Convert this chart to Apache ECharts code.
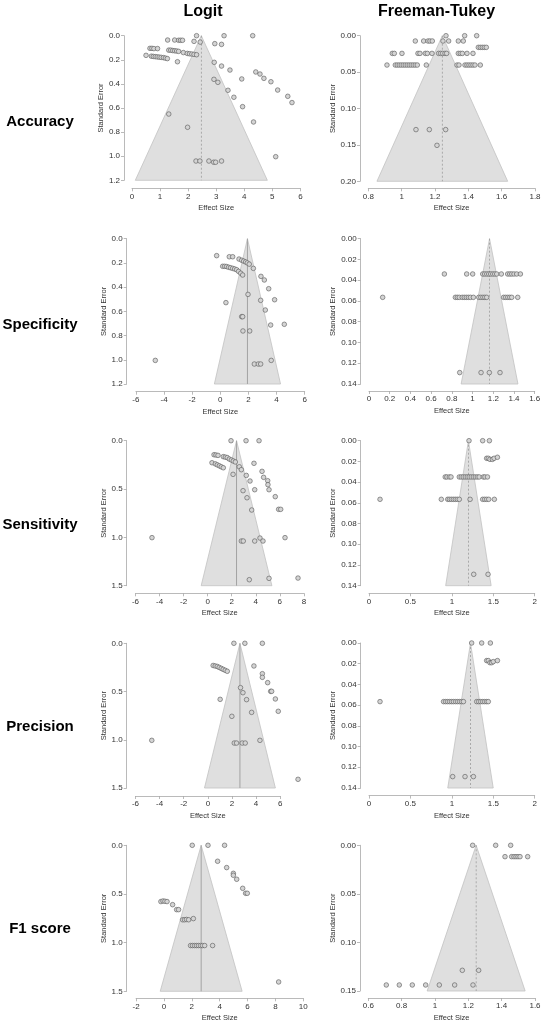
<!DOCTYPE html>
<html>
<head>
<meta charset="utf-8">
<script src="https://cdn.jsdelivr.net/npm/echarts@6/dist/echarts.min.js"></script>
<style>
  html, body { margin: 0; padding: 0; background: #fff; }
  #funnels { width: 550px; height: 1029px; }
</style>
</head>
<body>
<div id="funnels"></div>
<script>
/* funnel plots, 5 metrics x 2 transforms */
var methods = ['Logit', 'Freeman-Tukey'];
var metrics = ['Accuracy', 'Specificity', 'Sensitivity', 'Precision', 'F1 score'];

// [effect size, standard error]
var accuracyLogit = [[2.30,0],[3.28,0],[4.30,0],
  [1.27,0.036],[1.52,0.036],[1.66,0.038],[1.73,0.038],[1.80,0.038],[2.21,0.047],[2.43,0.053],
  [2.95,0.066],[3.19,0.072],
  [0.64,0.105],[0.71,0.105],[0.78,0.107],[0.91,0.107],
  [1.31,0.12],[1.38,0.12],[1.45,0.123],[1.52,0.125],[1.59,0.127],[1.66,0.13],[1.83,0.14],[1.97,0.147],[2.05,0.15],[2.13,0.152],[2.21,0.155],[2.30,0.158],
  [0.50,0.163],[0.69,0.17],[0.76,0.172],[0.83,0.174],[0.90,0.176],[0.97,0.178],[1.04,0.18],[1.12,0.182],[1.19,0.186],[1.26,0.19],[1.62,0.216],
  [2.93,0.221],[3.19,0.252],[3.49,0.285],[4.41,0.301],[4.56,0.318],[4.70,0.354],[4.95,0.382],[3.91,0.359],[2.92,0.362],[3.06,0.387],
  [5.19,0.451],[5.55,0.503],[5.70,0.555],[3.42,0.453],[3.63,0.511],[3.94,0.589],[4.33,0.716],[1.31,0.650],[1.98,0.760],[5.12,1.004],
  [2.28,1.04],[2.42,1.04],[2.74,1.04],[2.91,1.05],[2.98,1.05],[3.19,1.04]];
var accuracyFT = [[1.266,0],[1.378,0],[1.45,0],
  [1.082,0.0073],[1.132,0.0073],[1.158,0.0073],[1.17,0.0073],[1.184,0.0073],[1.248,0.0073],[1.282,0.0073],[1.34,0.0073],[1.37,0.0073],
  [1.46,0.016],[1.472,0.016],[1.484,0.016],[1.496,0.016],[1.508,0.016],
  [0.944,0.0243],[0.956,0.0243],[1.002,0.0243],[1.098,0.0243],[1.11,0.0243],[1.142,0.0243],[1.154,0.0243],[1.182,0.0243],[1.222,0.0243],[1.234,0.0243],
  [1.246,0.0243],[1.26,0.0243],[1.27,0.0243],[1.34,0.0243],[1.352,0.0243],[1.364,0.0243],[1.392,0.0243],[1.428,0.0243],
  [0.912,0.0403],[0.962,0.0403],[0.974,0.0403],[0.986,0.0403],[0.998,0.0403],[1.01,0.0403],[1.022,0.0403],[1.034,0.0403],[1.046,0.0403],[1.058,0.0403],
  [1.07,0.0403],[1.082,0.0403],[1.094,0.0403],[1.148,0.0403],[1.332,0.0403],[1.344,0.0403],[1.38,0.0403],[1.392,0.0403],[1.404,0.0403],[1.416,0.0403],
  [1.428,0.0403],[1.44,0.0403],[1.472,0.0403],
  [1.086,0.129],[1.166,0.129],[1.264,0.129],[1.212,0.1506]];
var specificityLogit = [[-0.26,0.140],[0.64,0.149],[0.88,0.149],[1.33,0.168],[1.52,0.178],[1.66,0.185],[1.80,0.192],[1.92,0.200],[2.06,0.210],[2.35,0.245],
  [0.17,0.228],[0.31,0.228],[0.45,0.230],[0.59,0.236],[0.73,0.240],[0.88,0.245],[1.02,0.250],[1.16,0.256],[1.30,0.270],[1.45,0.285],[1.59,0.300],
  [2.89,0.311],[3.13,0.341],[3.44,0.413],[1.97,0.46],[2.87,0.509],[3.86,0.504],[0.40,0.528],[3.20,0.589],[1.52,0.644],[1.59,0.644],
  [3.58,0.713],[4.55,0.707],[1.61,0.762],[2.09,0.762],[-4.62,1.005],[3.62,1.005],[2.42,1.035],[2.70,1.035],[2.87,1.035]];
var specificityFT = [[0.728,0.034],[0.943,0.034],[1.001,0.034],[1.098,0.034],[1.117,0.034],[1.137,0.034],[1.156,0.034],[1.175,0.034],[1.195,0.034],
  [1.214,0.034],[1.233,0.034],[1.278,0.034],[1.339,0.034],[1.359,0.034],[1.378,0.034],[1.40,0.034],[1.426,0.034],[1.462,0.034],
  [0.132,0.0565],[0.834,0.0565],[0.853,0.0565],[0.872,0.0565],[0.90,0.0565],[0.92,0.0565],[0.94,0.0565],[0.96,0.0565],[0.98,0.0565],[1.008,0.0565],
  [1.06,0.0565],[1.08,0.0565],[1.10,0.0565],[1.118,0.0565],[1.136,0.0565],[1.30,0.0565],[1.32,0.0565],[1.34,0.0565],[1.359,0.0565],[1.378,0.0565],[1.436,0.0565],
  [0.876,0.129],[1.082,0.129],[1.162,0.129],[1.265,0.129]];
var sensitivityLogit = [[1.94,0],[3.19,0],[4.27,0],
  [0.53,0.145],[0.69,0.148],[0.86,0.152],[1.30,0.165],[1.47,0.170],[1.63,0.175],[1.80,0.19],[1.97,0.20],[2.13,0.21],[2.30,0.22],[2.63,0.27],[2.80,0.30],
  [0.36,0.228],[0.64,0.24],[0.80,0.25],[0.97,0.26],[1.13,0.27],[1.30,0.28],
  [2.11,0.348],[3.85,0.234],[3.21,0.359],[4.52,0.317],[4.65,0.379],[4.99,0.414],[5.01,0.455],[3.52,0.417],[2.94,0.517],[3.91,0.507],[5.10,0.507],
  [3.27,0.59],[5.62,0.579],[3.66,0.717],[5.90,0.71],[6.07,0.71],[-4.63,1.003],[2.80,1.038],[2.96,1.038],[3.91,1.038],[4.35,1.007],[4.60,1.038],
  [6.43,1.003],[3.46,1.438],[5.10,1.424],[7.51,1.421]];
var sensitivityFT = [[1.207,0],[1.372,0],[1.453,0],
  [1.42,0.017],[1.44,0.017],[1.46,0.018],[1.49,0.018],[1.51,0.017],[1.55,0.016],
  [0.92,0.035],[0.94,0.035],[0.97,0.035],[0.99,0.035],[1.09,0.035],[1.114,0.035],[1.138,0.035],[1.163,0.035],[1.187,0.035],[1.21,0.035],
  [1.235,0.035],[1.26,0.035],[1.284,0.035],[1.308,0.035],[1.33,0.035],[1.38,0.035],[1.40,0.035],[1.43,0.035],
  [0.133,0.0566],[0.873,0.0566],[0.95,0.0566],[0.97,0.0566],[0.994,0.0566],[1.018,0.0566],[1.042,0.0566],[1.066,0.0566],[1.09,0.0566],
  [1.22,0.0566],[1.372,0.0566],[1.396,0.0566],[1.42,0.0566],[1.445,0.0566],[1.513,0.0566],
  [1.264,0.129],[1.437,0.129]];
var precisionLogit = [[2.16,0],[3.07,0],[4.52,0],
  [0.44,0.23],[0.61,0.235],[0.78,0.24],[0.94,0.25],[1.11,0.26],[1.27,0.27],[1.44,0.28],[1.61,0.29],
  [3.82,0.235],[4.52,0.315],[4.52,0.353],[4.96,0.408],[2.71,0.46],[5.21,0.498],[5.29,0.498],[2.91,0.512],[1.02,0.581],[3.21,0.584],
  [5.60,0.577],[3.63,0.716],[5.84,0.705],[1.99,0.757],[-4.65,1.006],[2.19,1.034],[2.38,1.034],[2.85,1.034],[3.10,1.034],[4.32,1.006],[7.48,1.41]];
var precisionFT = [[1.239,0],[1.36,0],[1.465,0],
  [1.42,0.017],[1.44,0.017],[1.46,0.019],[1.48,0.019],[1.50,0.018],[1.55,0.017],
  [0.133,0.0566],[0.90,0.0566],[0.925,0.0566],[0.949,0.0566],[0.973,0.0566],[0.997,0.0566],[1.02,0.0566],[1.046,0.0566],[1.07,0.0566],
  [1.094,0.0566],[1.118,0.0566],[1.14,0.0566],[1.30,0.0566],[1.324,0.0566],[1.348,0.0566],[1.372,0.0566],[1.396,0.0566],[1.42,0.0566],[1.44,0.0566],
  [1.01,0.129],[1.159,0.129],[1.26,0.129]];
var f1Logit = [[2.03,0],[3.16,0],[4.35,0],
  [3.85,0.164],[4.50,0.229],[4.98,0.288],[4.98,0.308],[5.22,0.349],[5.65,0.442],[5.86,0.493],[5.98,0.493],
  [-0.22,0.578],[-0.07,0.572],[0.07,0.575],[0.22,0.578],[0.62,0.61],[0.91,0.661],[1.05,0.661],[1.34,0.765],[1.48,0.765],[1.62,0.762],[1.77,0.765],[2.11,0.753],
  [1.91,1.03],[2.05,1.03],[2.20,1.03],[2.34,1.03],[2.48,1.03],[2.63,1.03],[2.77,1.03],[2.92,1.03],[3.49,1.03],[8.23,1.404]];
var f1FT = [[1.226,0],[1.364,0],[1.454,0],
  [1.42,0.0117],[1.46,0.0117],[1.474,0.0117],[1.486,0.0117],[1.498,0.0117],[1.51,0.0117],[1.556,0.0117],
  [1.164,0.1287],[1.262,0.1287],
  [0.708,0.1438],[0.786,0.1438],[0.864,0.1438],[0.944,0.1438],[1.026,0.1438],[1.118,0.1438],[1.228,0.1438]];

// pooled estimate (funnel apex) and SE at funnel base, panel order: row by row, Logit then FT
var pooled = [2.47, 1.244, 1.93, 1.164, 2.40, 1.20, 2.66, 1.225, 2.67, 1.247];
var seBase = [1.2, 0.2, 1.2, 0.14, 1.5, 0.14, 1.5, 0.14, 1.5, 0.15];

// axis ticks [min, max, step]
var xTicks = [[0,6,1],[0.8,1.8,0.2],[-6,6,2],[0,1.6,0.2],[-6,8,2],[0,2,0.5],[-6,6,2],[0,2,0.5],[-2,10,2],[0.6,1.6,0.2]];
var yTicks = [[0,1.2,0.2],[0,0.2,0.05],[0,1.2,0.2],[0,0.14,0.02],[0,1.5,0.5],[0,0.14,0.02],[0,1.5,0.5],[0,0.14,0.02],[0,1.5,0.5],[0,0.15,0.05]];

var points = [accuracyLogit, accuracyFT, specificityLogit, specificityFT, sensitivityLogit, sensitivityFT,
              precisionLogit, precisionFT, f1Logit, f1FT];

// layout: [left, top, width, height, xAxisOffset, yAxisOffset]
var boxes = [
  [132, 35.7, 168.4, 144.6, 8, 8], [368.3, 35.7, 166.7, 145.6, 7, 8.3],
  [135.9, 238.7, 168.8, 145.3, 7.7, 9.2], [369, 238.7, 165.7, 145.3, 7, 8.3],
  [135.5, 440.7, 168.4, 145, 7.6, 8.8], [369, 440.7, 165.7, 145, 7.6, 8.3],
  [135.5, 643.3, 144.7, 144.7, 8, 8.8], [369, 643, 165.7, 145, 7.6, 8.3],
  [136.1, 845.3, 167.2, 146, 7, 9.4], [368.3, 845.3, 166.7, 145.7, 7, 8.3]
];
var rowY = [122, 325, 525, 727, 929];
var solidRef = [false, false, true, false, true, false, true, false, true, false];

var FONT = '"Liberation Sans", Arial, sans-serif';
var axisGrey = '#a8a8a8';

function funnelShape(params, api) {
  var c = api.value(0), se = api.value(1);
  var apex = api.coord([c, 0]);
  var bl = api.coord([c - 1.96 * se, se]);
  var br = api.coord([c + 1.96 * se, se]);
  var solid = solidRef[params.seriesIndex / 2 | 0];
  return {
    type: 'group',
    children: [
      { type: 'polygon', shape: { points: [apex, bl, br] },
        style: { fill: '#dfdfdf', stroke: '#c2c2c2', lineWidth: 0.8 } },
      { type: 'line', shape: { x1: apex[0], y1: apex[1], x2: apex[0], y2: bl[1] },
        style: { stroke: solid ? '#a3a3a3' : '#9c9c9c', lineWidth: solid ? 1 : 0.8, lineDash: solid ? null : [2, 2] } }
    ]
  };
}

var grids = [], xAxes = [], yAxes = [], series = [];
points.forEach(function (pts, i) {
  var b = boxes[i], ft = i % 2 === 1;
  var yDec = ft ? 2 : 1;
  grids.push({ left: b[0], top: b[1], width: b[2], height: b[3] });
  xAxes.push({
    gridIndex: i, type: 'value', min: xTicks[i][0], max: xTicks[i][1], interval: xTicks[i][2],
    offset: b[4], name: 'Effect Size', nameLocation: 'middle', nameGap: 16,
    nameTextStyle: { fontSize: 7.5, color: '#333', fontFamily: FONT },
    axisLine: { show: true, onZero: false, lineStyle: { color: axisGrey, width: 0.8 } },
    axisTick: { show: true, length: 3, lineStyle: { color: axisGrey, width: 0.8 } },
    axisLabel: { fontSize: 8, color: '#333', fontFamily: FONT, margin: 4 },
    splitLine: { show: false }
  });
  yAxes.push({
    gridIndex: i, type: 'value', inverse: true, min: yTicks[i][0], max: yTicks[i][1], interval: yTicks[i][2],
    offset: b[5], name: 'Standard Error', nameLocation: 'middle', nameGap: ft ? 22 : 19, nameRotate: 90,
    nameTextStyle: { fontSize: 7.5, color: '#333', fontFamily: FONT },
    axisLine: { show: true, onZero: false, lineStyle: { color: axisGrey, width: 0.8 } },
    axisTick: { show: true, length: 3, lineStyle: { color: axisGrey, width: 0.8 } },
    axisLabel: { fontSize: 8, color: '#333', fontFamily: FONT, margin: 4,
                 formatter: function (v) { return v.toFixed(yDec); } },
    splitLine: { show: false }
  });
  series.push({
    type: 'custom', xAxisIndex: i, yAxisIndex: i, renderItem: funnelShape,
    data: [[pooled[i], seBase[i]]], clip: false, silent: true, z: 1
  });
  series.push({
    type: 'scatter', xAxisIndex: i, yAxisIndex: i, data: pts, symbol: 'circle', symbolSize: 4.6,
    clip: false, silent: true, z: 3,
    itemStyle: { color: '#d4d4d4', borderColor: '#555', borderWidth: 0.6, opacity: 1 }
  });
});

var texts = [];
methods.forEach(function (m, j) {
  texts.push({ type: 'text', x: j === 0 ? 203 : 436.5, y: 12,
    style: { text: m, font: 'bold 16px ' + FONT, fill: '#000', align: 'center', verticalAlign: 'middle' } });
});
metrics.forEach(function (m, r) {
  texts.push({ type: 'text', x: 40, y: rowY[r],
    style: { text: m, font: 'bold 15px ' + FONT, fill: '#000', align: 'center', verticalAlign: 'middle' } });
});

var chart = echarts.init(document.getElementById('funnels'), null, { renderer: 'canvas' });
chart.setOption({
  animation: false,
  backgroundColor: '#fff',
  grid: grids,
  xAxis: xAxes,
  yAxis: yAxes,
  series: series,
  graphic: texts
});
</script>
</body>
</html>
